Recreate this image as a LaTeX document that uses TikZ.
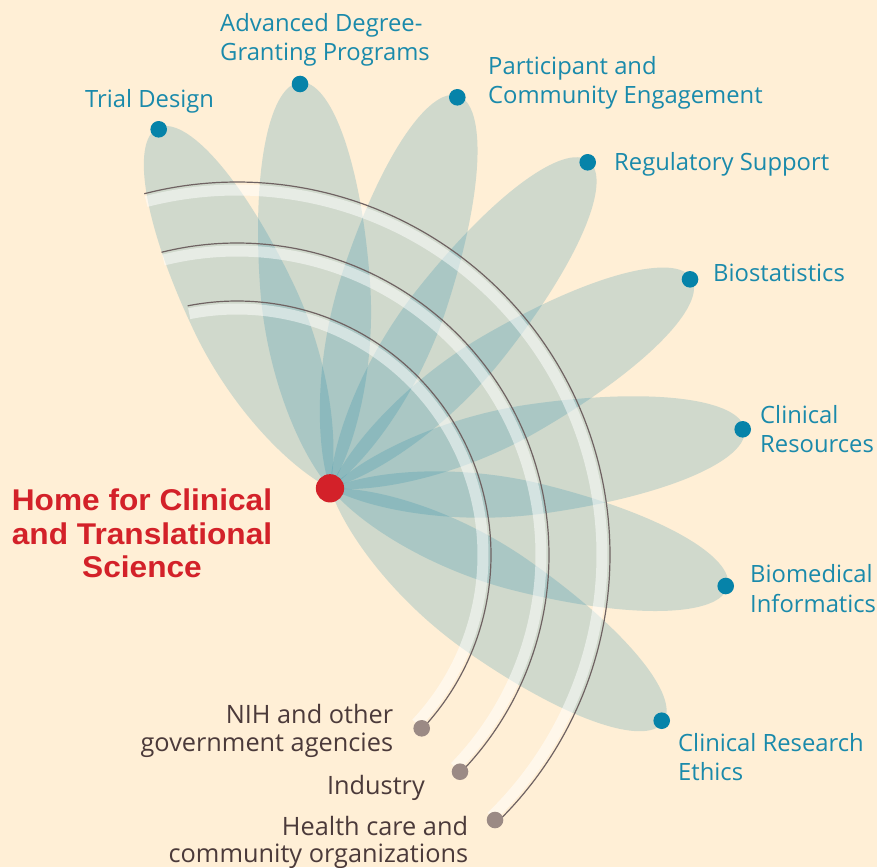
\documentclass[tikz,border=0pt]{standalone}
\usepackage{fontspec}
\setmainfont{Open Sans}
\newfontfamily\redfont{Liberation Sans}[FakeStretch=1.055]
\definecolor{bgc}{HTML}{FFEFD6}
\definecolor{petalc}{RGB}{20,130,165}
\definecolor{labteal}{HTML}{1A8AAB}
\definecolor{dotteal}{HTML}{0683A9}
\definecolor{redc}{HTML}{D32129}
\definecolor{graytxt}{HTML}{4B3A3A}
\definecolor{graydot}{HTML}{9B8A85}
\definecolor{arcline}{HTML}{6F6262}
\newcommand\lblock[2]{\vtop{\baselineskip=#1pt\halign{##\hfil\cr#2\cr}}}
\newcommand\rblock[2]{\vtop{\baselineskip=#1pt\halign{\hfil##\cr#2\cr}}}
\newcommand\cblock[2]{\vtop{\baselineskip=#1pt\halign{\hfil##\hfil\cr#2\cr}}}
\def\pb{55}
\newcommand\petal[2]{%
  \fill[petalfill, shift={(330,488.3)}, rotate=#1]
    (0,0) .. controls ({0.1*#2},{0.55*\pb}) and ({0.3*#2},{\pb}) .. ({0.5*#2},{\pb})
          .. controls ({0.8*#2},{\pb}) and ({#2},{0.55*\pb}) .. ({#2},0)
          .. controls ({#2},{-0.55*\pb}) and ({0.8*#2},{-\pb}) .. ({0.5*#2},{-\pb})
          .. controls ({0.3*#2},{-\pb}) and ({0.1*#2},{-0.55*\pb}) .. (0,0) -- cycle;}
\begin{document}
\begin{tikzpicture}[x=1pt,y=-1pt,
  petalfill/.style={fill=petalc, fill opacity=0.2},
  band/.style={draw=white, draw opacity=0.5, line width=11pt},
  arcl/.style={draw=arcline, line width=1.2pt},
  lab/.style={inner sep=0pt, text=labteal, font=\fontsize{23.8}{29}\selectfont},
  glab/.style={inner sep=0pt, text=graytxt, font=\fontsize{25.3}{28}\selectfont},
  tdot/.style={circle, fill=dotteal, minimum size=16.6pt, inner sep=0pt},
  gdot/.style={circle, fill=graydot, minimum size=16.6pt, inner sep=0pt},
  rdot/.style={circle, fill=redc, minimum size=28.3pt, inner sep=0pt}]
\fill[bgc] (0,0) rectangle (877,867);
\useasboundingbox (0,0) rectangle (877,867);
% petals
\petal{115.5}{399.5}
\petal{94.2}{407.1}
\petal{71.95}{412.9}
\petal{51.64}{417.3}
\petal{30.1}{418.1}
\petal{8.1}{418.8}
\petal{-13.9}{409.7}
\petal{-35.05}{407.2}
% arcs
\foreach \r/\s/\e in {254/258.8/403.2, 312/256/404.2, 373/255.6/405.8}{
  \pgfmathsetmacro\rb{\r-8}
  \draw[band] plot[domain=\s:\e, samples=120, smooth] ({237+\rb*cos(\x)},{555+\rb*sin(\x)});
  \draw[arcl] plot[domain=\s:\e, samples=120, smooth] ({237+\r*cos(\x)},{555+\r*sin(\x)});
}
% gray end dots
\node[gdot] (gNIH) at (421.7,728.3) {};
\node[gdot] (gInd) at (460,771.7) {};
\node[gdot] (gHealth) at (495,820) {};
% teal dots
\node[tdot] (dTrial) at (158.7,129.3) {};
\node[tdot] (dAdv) at (300,84) {};
\node[tdot] (dPart) at (457.3,97.3) {};
\node[tdot] (dReg) at (587.7,162.3) {};
\node[tdot] (dBio) at (690,279.3) {};
\node[tdot] (dClin) at (742.7,429.3) {};
\node[tdot] (dInf) at (725.7,586) {};
\node[tdot] (dEth) at (661.7,720.7) {};
% centre
\node[rdot] (home) at (330,488.3) {};
% labels
\node[lab, anchor=base west] (tTrial) at (85,107.7) {Trial Design};
\node[lab, anchor=base west] (tAdv) at (220,31.7) {\lblock{29}{Advanced Degree-\cr Granting Programs}};
\node[lab, anchor=base west] (tPart) at (488,74.3) {\lblock{29}{Participant and\cr Community Engagement}};
\node[lab, anchor=base west] (tReg) at (614,170) {Regulatory Support};
\node[lab, anchor=base west] (tBio) at (713,281.7) {Biostatistics};
\node[lab, anchor=base west] (tClin) at (760,423.3) {\lblock{29.4}{Clinical\cr Resources}};
\node[lab, anchor=base west] (tInf) at (750,582.7) {\lblock{29.4}{Biomedical\cr Informatics}};
\node[lab, anchor=base west] (tEth) at (678,751.7) {\lblock{29}{Clinical Research\cr Ethics}};
\node[glab, anchor=base east] (tNIH) at (393.3,723.3) {\rblock{27.7}{NIH and other\cr government agencies}};
\node[glab, anchor=base east] (tInd) at (425,794) {Industry};
\node[glab, anchor=base east] (tHealth) at (468.3,835.5) {\rblock{26.5}{Health care and\cr community organizations}};
\node[inner sep=0pt, text=redc, font=\redfont\bfseries\fontsize{30}{33}\selectfont, anchor=base] (tHome) at (142,510.7) {\cblock{33.3}{Home for Clinical\cr and Translational\cr Science}};
\end{tikzpicture}
\end{document}
